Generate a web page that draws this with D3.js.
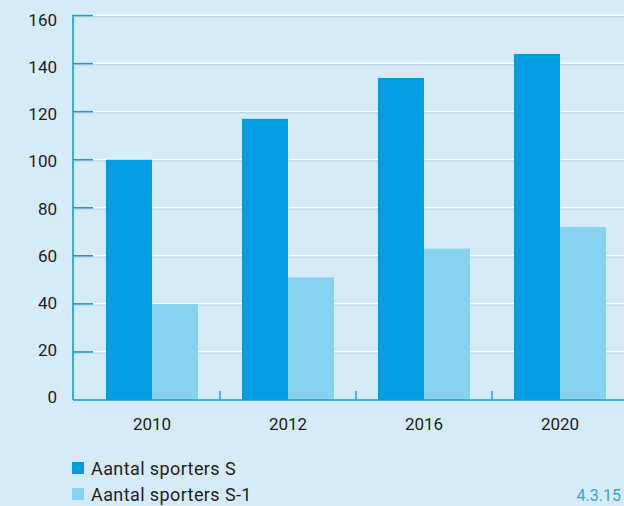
<!DOCTYPE html>
<html>
<head>
<meta charset="utf-8">
<script src="https://cdn.jsdelivr.net/npm/d3@7"></script>
<style>
  html, body { margin: 0; padding: 0; background: #d6ebf8; overflow: hidden; }
  svg { display: block; font-family: Roboto, "DejaVu Sans", sans-serif; }
</style>
</head>
<body>
<div id="chart"></div>
<script>
const years = ['2010', '2012', '2016', '2020'];
const seriesNames = ['Aantal sporters S', 'Aantal sporters S-1'];
const sportersS = [100, 117, 134, 144];
const sportersS1 = [40, 51, 63, 72];
const yTicks = [0, 20, 40, 60, 80, 100, 120, 140, 160];
const figureNumber = '4.3.15';

const colors = ['#009ee0', '#88d1f1'];
const W = 624, H = 506;

const svg = d3.select("#chart")
    .append("svg")
    .attr("width", W)
    .attr("height", H);

svg.append("rect").attr("width", W).attr("height", H).attr("fill", "#d6ebf8");

const axisX = 73;
const y = d3.scaleLinear().domain([0, 160]).range([400, 15.5]);
// labels sit on a slightly tighter spacing than the grid
const yLabel = d3.scaleLinear().domain([0, 160]).range([397, 20]);

const x = d3.scaleBand()
    .domain(years)
    .range([84, 628])
    .paddingInner(0.324)
    .paddingOuter(0.162);

const xSub = d3.scaleBand()
    .domain([0, 1])
    .range([0, x.bandwidth()]);

// grid lines
const grid = svg.append("g");
yTicks.filter(d => d > 0).forEach(d => {
    grid.append("line")
        .attr("x1", axisX).attr("x2", W)
        .attr("y1", y(d) + 1.2).attr("y2", y(d) + 1.2)
        .attr("stroke", "#c3d6e2").attr("stroke-width", 1.4);
    grid.append("line")
        .attr("x1", axisX).attr("x2", W)
        .attr("y1", y(d) - 0.3).attr("y2", y(d) - 0.3)
        .attr("stroke", "#ffffff").attr("stroke-width", 1.4);
});

// bars
const groups = svg.selectAll(".year")
    .data(years)
    .enter()
    .append("g")
    .attr("class", "year")
    .attr("transform", d => `translate(${x(d)},0)`);

groups.selectAll("rect")
    .data((d, i) => [sportersS[i], sportersS1[i]])
    .enter()
    .append("rect")
    .attr("x", (d, j) => xSub(j))
    .attr("width", xSub.bandwidth())
    .attr("y", d => y(d))
    .attr("height", d => y(0) - y(d))
    .attr("fill", (d, j) => colors[j]);

// y axis line and major ticks
svg.append("line")
    .attr("x1", axisX).attr("x2", axisX)
    .attr("y1", y(160) - 0.7).attr("y2", y(0))
    .attr("stroke", "#1a9ad8").attr("stroke-width", 1.6);

svg.selectAll(".ytick")
    .data(yTicks.filter(d => d > 0))
    .enter()
    .append("line")
    .attr("x1", axisX).attr("x2", axisX + 20)
    .attr("y1", d => y(d)).attr("y2", d => y(d))
    .attr("stroke", "#1a9ad8").attr("stroke-width", 1.6);

svg.selectAll(".ylabel")
    .data(yTicks)
    .enter()
    .append("text")
    .attr("x", 57)
    .attr("y", d => yLabel(d))
    .attr("dy", "0.36em")
    .attr("text-anchor", "end")
    .attr("font-size", 17)
    .attr("fill", "#1e1e1e")
    .text(d => d);

// x axis
svg.append("line")
    .attr("x1", axisX).attr("x2", W)
    .attr("y1", y(0)).attr("y2", y(0))
    .attr("stroke", "#1a9ad8").attr("stroke-width", 1.6);

svg.selectAll(".xsep")
    .data(years.slice(1))
    .enter()
    .append("line")
    .attr("x1", d => x(d) - x.step() * x.paddingInner() / 2)
    .attr("x2", d => x(d) - x.step() * x.paddingInner() / 2)
    .attr("y1", y(0) - 9).attr("y2", y(0))
    .attr("stroke", "#1a9ad8").attr("stroke-width", 1.4);

svg.selectAll(".xlabel")
    .data(years)
    .enter()
    .append("text")
    .attr("x", d => x(d) + x.bandwidth() / 2)
    .attr("y", 429.5)
    .attr("text-anchor", "middle")
    .attr("font-size", 17)
    .attr("fill", "#1e1e1e")
    .text(d => d);

// legend
const legend = svg.selectAll(".legend")
    .data(seriesNames)
    .enter()
    .append("g")
    .attr("transform", (d, i) => `translate(72,${462 + i * 26})`);

legend.append("rect")
    .attr("width", 12).attr("height", 12)
    .attr("fill", (d, i) => colors[i]);

legend.append("text")
    .attr("x", 19).attr("y", 12.5)
    .attr("font-size", 18)
    .attr("letter-spacing", 0.4)
    .attr("fill", "#1e1e1e")
    .text(d => d);

// figure number (cut at the edge in the source; kept whole here)
svg.append("text")
    .attr("x", W - 3).attr("y", 501)
    .attr("text-anchor", "end")
    .attr("font-size", 16)
    .attr("fill", "#3aa3dd")
    .text(figureNumber);
</script>
</body>
</html>
